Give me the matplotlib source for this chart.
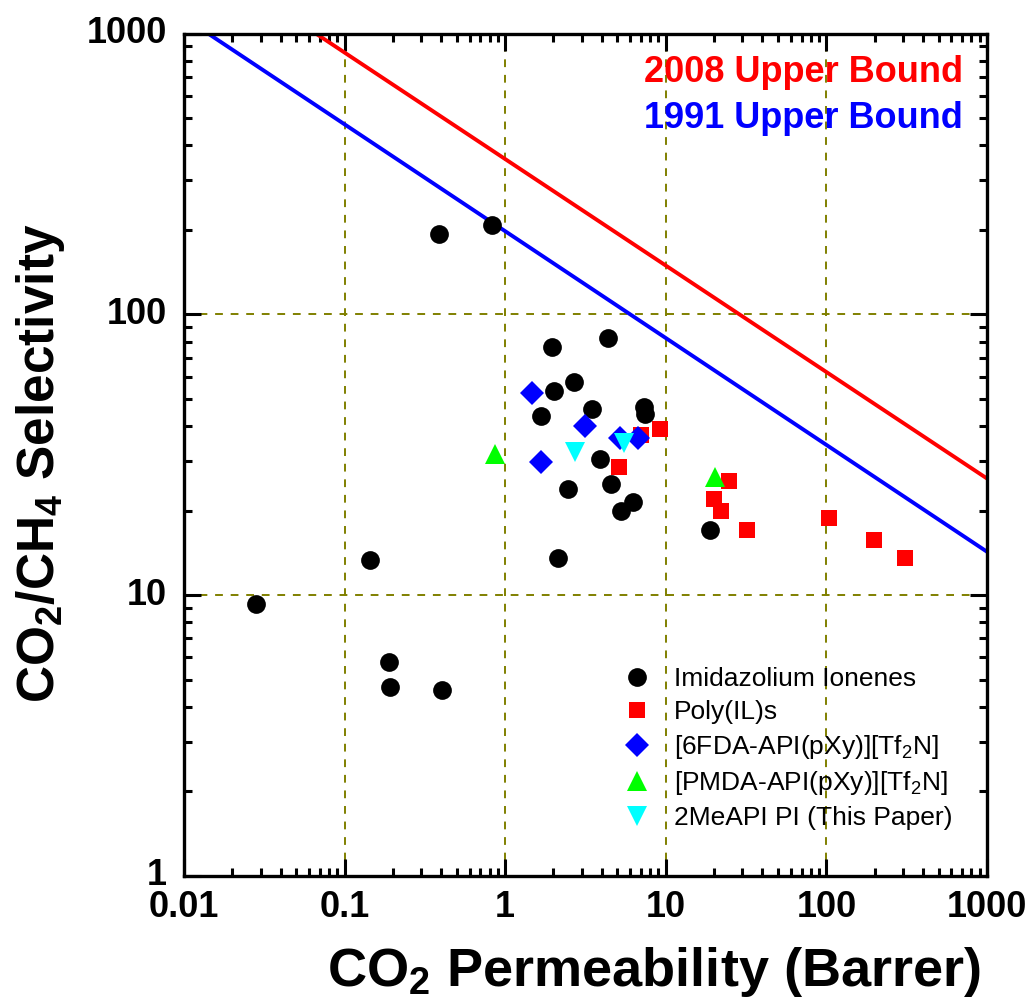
import matplotlib
matplotlib.use("Agg")
import matplotlib.pyplot as plt
from matplotlib.ticker import LogLocator, NullFormatter, FixedLocator, FixedFormatter

plt.rcParams['font.family'] = ['Liberation Sans', 'DejaVu Sans']
plt.rcParams['mathtext.fontset'] = 'custom'
plt.rcParams['mathtext.rm'] = 'Liberation Sans'
plt.rcParams['mathtext.bf'] = 'Liberation Sans:bold'

# CO2 permeability (Barrer) and CO2/CH4 selectivity
ionene_p = [0.028, 0.144, 0.385, 0.826, 0.189, 0.193, 0.403, 1.97, 4.35, 2.67,
            2.01, 1.68, 3.47, 7.36, 7.43, 3.87, 2.45, 4.54, 6.29, 5.27, 2.14, 18.8]
ionene_s = [9.3, 13.3, 194, 208, 5.75, 4.69, 4.60, 76.7, 82.5, 57.4,
            53.3, 43.4, 46.1, 46.6, 44.0, 30.5, 23.9, 24.9, 21.5, 20.0, 13.5, 17.0]

polyil_p = [9.18, 6.98, 5.09, 24.7, 19.9, 22.0, 32.0, 104, 199, 310]
polyil_s = [38.9, 37.1, 28.5, 25.4, 21.9, 20.0, 17.0, 18.8, 15.7, 13.6]

fda_p = [1.47, 3.14, 1.68, 5.22, 6.76]
fda_s = [52.4, 40.0, 29.7, 36.2, 36.4]

pmda_p = [0.867, 20.2]
pmda_s = [31.8, 26.4]

meapi_p = [2.73, 5.52]
meapi_s = [32.3, 34.7]

# Robeson upper bounds, end points at the plot edges
bound_x = [0.01, 1000]
bound_2008 = [2051, 26.0]
bound_1991 = [1142, 14.26]

fig = plt.figure(figsize=(10.33, 10.06), dpi=100)
ax = fig.add_axes([0.178, 0.1295, 0.7775, 0.8371])

ax.plot(bound_x, bound_2008, color='red', lw=2.8, zorder=2)
ax.plot(bound_x, bound_1991, color='blue', lw=2.8, zorder=2)

ax.plot(ionene_p, ionene_s, 'o', color='black', ms=13.5, mew=0, zorder=3,
        label='Imidazolium Ionenes')
ax.plot(polyil_p, polyil_s, 's', color='red', ms=12, mew=0, zorder=3,
        label='Poly(IL)s')
ax.plot(fda_p, fda_s, 'D', color='blue', ms=12, mew=0, zorder=3,
        label='[6FDA-API(pXy)][Tf$_2$N]')
ax.plot(pmda_p, pmda_s, '^', color='#00ff00', ms=15, mew=0, zorder=3,
        label='[PMDA-API(pXy)][Tf$_2$N]')
ax.plot(meapi_p, meapi_s, 'v', color='cyan', ms=15, mew=0, zorder=3,
        label='2MeAPI PI (This Paper)')

ax.set_xscale('log')
ax.set_yscale('log')
ax.set_xlim(0.01, 1000)
ax.set_ylim(1, 1000)

xt = [0.01, 0.1, 1, 10, 100, 1000]
yt = [1, 10, 100, 1000]
ax.xaxis.set_major_locator(FixedLocator(xt))
ax.xaxis.set_major_formatter(FixedFormatter(['0.01', '0.1', '1', '10', '100', '1000']))
ax.yaxis.set_major_locator(FixedLocator(yt))
ax.yaxis.set_major_formatter(FixedFormatter(['1', '10', '100', '1000']))
for axis in (ax.xaxis, ax.yaxis):
    axis.set_minor_locator(LogLocator(base=10, subs=range(2, 10), numticks=20))
    axis.set_minor_formatter(NullFormatter())

ax.tick_params(which='both', direction='in', top=True, right=True, width=2.2,
               color='black')
ax.tick_params(which='major', length=12, labelsize=26)
ax.tick_params(axis='x', which='major', pad=10)
ax.tick_params(axis='y', which='major', pad=12)
ax.tick_params(which='minor', length=6)
for lab in ax.get_xticklabels() + ax.get_yticklabels():
    lab.set_fontweight('bold')
for t in ax.yaxis.get_major_ticks():
    t.label1.set_va('center')
for sp in ax.spines.values():
    sp.set_linewidth(2.4)

ax.grid(True, which='major', color='#808000', ls=(0, (4, 4)), lw=1.4)

ax.set_xlabel(r'CO$_\mathbf{2}$ Permeability (Barrer)', fontsize=39,
              fontweight='bold', labelpad=15)
ax.xaxis.label.set_x(0.585)
ax.set_ylabel(r'CO$_\mathbf{2}$/CH$_\mathbf{4}$ Selectivity', fontsize=37,
              fontweight='bold', labelpad=14)
ax.yaxis.label.set_y(0.49)

ax.text(0.97, 0.975, '2008 Upper Bound', color='red', fontsize=26,
        fontweight='bold', ha='right', va='top', transform=ax.transAxes)
ax.text(0.97, 0.92, '1991 Upper Bound', color='blue', fontsize=26,
        fontweight='bold', ha='right', va='top', transform=ax.transAxes)

ax.legend(loc='upper left', bbox_to_anchor=(0.531, 0.26), frameon=False,
          fontsize=19, numpoints=1, handlelength=1.2, handletextpad=0.8,
          labelspacing=0.33, borderaxespad=0)

fig.savefig('out.png', dpi=100)
